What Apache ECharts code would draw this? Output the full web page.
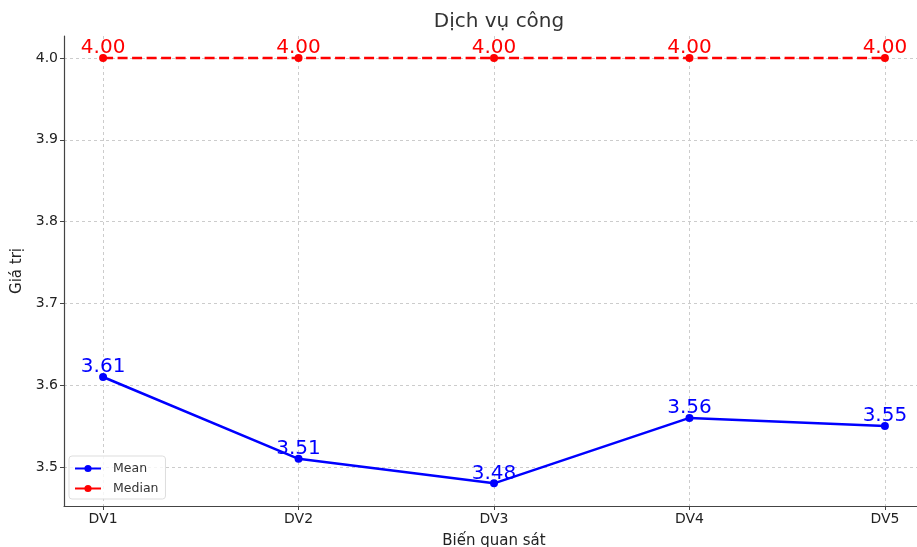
<!DOCTYPE html>
<html><head><meta charset="utf-8">
<script src="https://cdn.jsdelivr.net/npm/echarts@6/dist/echarts.min.js"></script>
<style>html,body{margin:0;padding:0;background:#fff}#c{width:917px;height:547px}</style>
</head><body><div id="c"></div>
<script>
const categories = ['DV1','DV2','DV3','DV4','DV5'];
const meanValues = [3.61, 3.51, 3.48, 3.56, 3.55];
const medianValues = [4.00, 4.00, 4.00, 4.00, 4.00];
const yTicks = [3.5, 3.6, 3.7, 3.8, 3.9, 4.0];
const xTicks = [0, 1, 2, 3, 4];

const font = 'DejaVu Sans';
const chart = echarts.init(document.getElementById('c'));
const lbl = (color) => ({show:true, position:'top', distance:2, offset:[0,6], fontSize:20, fontFamily:font, color:color, formatter:p=>p.value[1].toFixed(2)});
chart.setOption({
  animation:false,
  textStyle:{fontFamily:font},
  title:{text:'Dịch vụ công', left:494, textAlign:'center', top:7, textStyle:{fontSize:20, fontWeight:'normal', color:'#333', fontFamily:font}},
  grid:{left:64, right:-7, top:36, bottom:41, containLabel:false, outerBoundsMode:'none'},
  legend:{orient:'vertical', left:69, top:456, itemWidth:26, itemHeight:9, itemGap:7, padding:[6,7,4,5],
    borderColor:'#ddd', borderWidth:1, borderRadius:3, backgroundColor:'rgba(255,255,255,0.8)',
    textStyle:{fontSize:12.5, color:'#333', fontFamily:font, padding:[0,0,0,7]},
    data:[{name:'Mean'},{name:'Median', lineStyle:{type:'solid'}}]},
  xAxis:{type:'value', min:-0.2, max:4.2, name:'Biến quan sát', nameLocation:'middle', nameGap:28,
    nameTextStyle:{fontSize:15, color:'#222', fontFamily:font},
    axisLine:{show:true, onZero:false, lineStyle:{color:'#444', width:1.2}},
    axisTick:{show:true, length:4, customValues:xTicks, lineStyle:{color:'#444'}},
    axisLabel:{customValues:xTicks, fontSize:14, color:'#222', margin:6, formatter:v=>categories[Math.round(v)]},
    splitLine:{show:true, customValues:xTicks, lineStyle:{color:'#ccc', type:[3,3], width:1}}},
  yAxis:{type:'value', min:3.4523, max:4.0269, name:'Giá trị', nameLocation:'middle', nameGap:33,
    nameTextStyle:{fontSize:15, color:'#222', fontFamily:font},
    axisLine:{show:true, onZero:false, lineStyle:{color:'#444', width:1.2}},
    axisTick:{show:true, length:4, customValues:yTicks, lineStyle:{color:'#444'}},
    axisLabel:{customValues:yTicks, fontSize:14, color:'#222', margin:6, formatter:v=>v.toFixed(1)},
    splitLine:{show:true, customValues:yTicks, lineStyle:{color:'#ccc', type:[3,3], width:1}}},
  series:[
    {name:'Mean', type:'line', data:categories.map((c,i)=>[i, meanValues[i]]), symbol:'circle', symbolSize:8,
      lineStyle:{color:'#0000ff', width:2.5}, itemStyle:{color:'#0000ff'}, label:lbl('#0000ff'), z:3},
    {name:'Median', type:'line', data:categories.map((c,i)=>[i, medianValues[i]]), symbol:'circle', symbolSize:8,
      lineStyle:{color:'#ff0000', width:2.5, type:[10,4.5]}, itemStyle:{color:'#ff0000'}, label:lbl('#ff0000'), z:3}
  ]
});
</script></body></html>
